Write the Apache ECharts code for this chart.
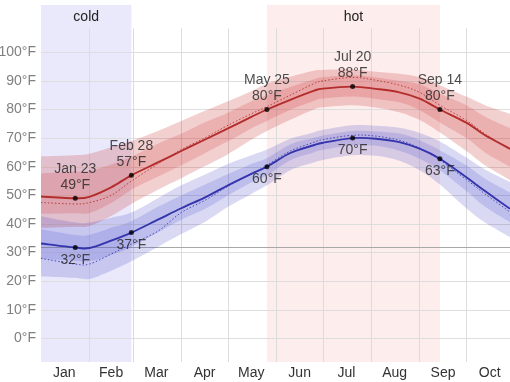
<!DOCTYPE html>
<html>
<head>
<meta charset="utf-8">
<script src="https://cdn.jsdelivr.net/npm/echarts@6/dist/echarts.min.js"></script>
<style>
  html, body { margin: 0; padding: 0; background: #ffffff; }
  #chart { width: 510px; height: 382px; }
</style>
</head>
<body>
<div id="chart"></div>
<script>
// ---- data (day of year, 0 = Jan 1) ----
const days      = [0, 22, 31, 45, 58, 75, 90, 106, 120, 135, 145, 160, 175, 181, 200, 215, 230, 243, 256, 273, 285, 301];
const highAvg   = [49.6, 49, 49.5, 52.8, 57, 61.5, 65.5, 69.7, 73.4, 77.4, 80, 83.4, 86.5, 87.3, 88, 87.2, 86, 83.8, 80, 75.4, 71, 66.3];
const highFeels = [47.5, 47, 47.5, 50, 55, 61, 66, 70.3, 74.5, 78.5, 81, 85, 89, 90, 91.2, 90.2, 88.5, 86, 81.5, 76.2, 71.5, 66];
const highP90   = [63.6, 64, 64.5, 66.8, 69, 72.5, 76, 79.7, 82.9, 86.4, 89, 91.4, 93.5, 93.8, 94, 93.2, 92.5, 91.3, 88.5, 84.5, 81.5, 78.5];
const highP75   = [57.6, 58.3, 58.5, 60.8, 63.5, 68, 71.5, 75.7, 78.9, 82.9, 85, 87.9, 90.5, 91.3, 92, 91.2, 90, 88.8, 85.5, 81.5, 77.5, 73.5];
const highP25   = [43.6, 43.8, 43.8, 47.3, 52, 56.5, 60.5, 65, 68.9, 73.4, 76, 79.9, 83, 83.8, 84.5, 83.7, 82.5, 79.8, 75.5, 70, 65, 60];
const highP10   = [38.6, 39, 39.3, 42.8, 47, 52, 56, 60.4, 64.4, 69.4, 72.5, 76.4, 80, 80.8, 81.5, 80.7, 79, 76.3, 72, 65.5, 60.5, 55.3];
const lowAvg    = [33.2, 31.8, 31.6, 34.2, 37, 41.5, 45.5, 49.5, 53.5, 57.5, 60, 64.8, 67.5, 68.4, 70, 69.8, 68.6, 66.3, 62.8, 56.3, 51.5, 45.3];
const lowFeels  = [28, 26, 26, 29.5, 33, 37.5, 44, 48.5, 53.2, 57.5, 60.5, 65.5, 68.5, 69.5, 71, 70.7, 69.2, 66.5, 62.3, 55.5, 50.5, 44.2];
const lowP90    = [42.7, 40.5, 40.5, 42.2, 44, 49, 53.5, 57.5, 61, 64, 66, 69.8, 72, 72.9, 74.5, 74.3, 73.6, 71.8, 68.8, 63.2, 59, 54.6];
const lowP75    = [38.2, 36.2, 36.2, 38.7, 41, 46, 50, 54, 57.5, 61, 63, 67.8, 70, 70.9, 72.5, 72.3, 71.6, 69.3, 65.8, 60.5, 55.8, 51];
const lowP25    = [27.7, 27.2, 27, 29.2, 32, 37, 41.5, 45.5, 50, 54.5, 57, 62.3, 65, 65.9, 67.5, 67.3, 65.6, 62.8, 58.8, 51.5, 46, 40.6];
const lowP10    = [21.7, 21.2, 20.8, 23.7, 27, 32, 36.5, 41, 46, 50.5, 53.5, 58.8, 61.5, 62.4, 64, 63.8, 62.1, 58.8, 53.8, 45.5, 40.5, 35.4];

// annotations (index into days)
const annIndex = [1, 4, 10, 14, 18];
const annDates = ['Jan 23', 'Feb 28', 'May 25', 'Jul 20', 'Sep 14'];

// seasons
const seasonNames = ['cold', 'hot'];
const seasonStart = [0, 145];
const seasonEnd   = [58, 256];

// axes
const monthNames  = ['Jan', 'Feb', 'Mar', 'Apr', 'May', 'Jun', 'Jul', 'Aug', 'Sep', 'Oct'];
const monthMids   = [15, 45, 74, 105, 135, 166, 196, 227, 258, 288];
const monthStarts = [31, 59, 90, 120, 151, 181, 212, 243, 273];
const yTicks      = [0, 10, 20, 30, 40, 50, 60, 70, 80, 90, 100];
const freezing    = 32;

// ---- layout constants ----
const X_MIN = 0, X_MAX = 301;
const Y_MIN = -8.2, Y_MAX = 116.5;
const VGRID_TOP = 108.3;
const FONT = "'Liberation Sans', Arial, Helvetica, sans-serif";

const pairs = arr => days.map((d, i) => [d, arr[i]]);

// Catmull-Rom spline through pixel points -> cubic bezier path commands
function splinePath(pts) {
  let s = '';
  for (let i = 0; i < pts.length - 1; i++) {
    const p0 = pts[i - 1] || pts[i], p1 = pts[i], p2 = pts[i + 1], p3 = pts[i + 2] || pts[i + 1];
    const c1x = p1[0] + (p2[0] - p0[0]) / 6, c1y = p1[1] + (p2[1] - p0[1]) / 6;
    const c2x = p2[0] - (p3[0] - p1[0]) / 6, c2y = p2[1] - (p3[1] - p1[1]) / 6;
    s += 'C' + c1x + ',' + c1y + ' ' + c2x + ',' + c2y + ' ' + p2[0] + ',' + p2[1];
  }
  return s;
}

function band(lower, upper, color) {
  return {
    type: 'custom', z: 2, silent: true, clip: true,
    data: days.map((d, i) => [d, lower[i], upper[i]]),
    encode: { x: 0, y: [1, 2] },
    renderItem: (params, api) => {
      if (params.dataIndex !== 0) return null;
      const up = [], lo = [];
      for (let i = 0; i < days.length; i++) {
        up.push(api.coord([days[i], upper[i]]));
        lo.push(api.coord([days[i], lower[i]]));
      }
      const loR = lo.slice().reverse();
      const d = 'M' + up[0][0] + ',' + up[0][1] + splinePath(up) +
                'L' + loR[0][0] + ',' + loR[0][1] + splinePath(loR) + 'Z';
      return { type: 'path', shape: { pathData: d }, style: { fill: color, stroke: null } };
    }
  };
}

function curve(arr, color, width, dash) {
  return {
    type: 'custom', z: 3, silent: true, clip: true,
    data: pairs(arr), encode: { x: 0, y: 1 },
    renderItem: (params, api) => {
      if (params.dataIndex !== 0) return null;
      const pts = days.map((d, i) => api.coord([d, arr[i]]));
      const d = 'M' + pts[0][0] + ',' + pts[0][1] + splinePath(pts);
      return { type: 'path', shape: { pathData: d },
               style: { fill: null, stroke: color, lineWidth: width, lineDash: dash, opacity: dash ? 0.85 : 1 } };
    }
  };
}

const redOuter = 'rgba(200,40,40,0.22)';
const redInner = 'rgba(200,40,40,0.19)';
const blueOuter = 'rgba(60,60,200,0.195)';
const blueInner = 'rgba(60,60,200,0.17)';
const redLine = '#b42d2d';
const blueLine = '#3434ad';

const monthLabel = v => {
  const i = monthMids.indexOf(v);
  return i >= 0 ? monthNames[i] : '';
};

const chart = echarts.init(document.getElementById('chart'), null, { renderer: 'canvas' });

const series = [
  // season shading
  {
    type: 'line', data: [], silent: true,
    markArea: {
      silent: true, z: 0,
      itemStyle: { color: '#e9e9fb' },
      label: { show: true, position: 'insideTop', distance: 5, color: '#222', fontSize: 14, fontFamily: FONT },
      data: seasonNames.map((n, i) => [
        { xAxis: seasonStart[i], name: n, itemStyle: { color: n === 'hot' ? '#fdeded' : '#e9e9fb' } },
        { xAxis: seasonEnd[i] }
      ])
    }
  },
  // horizontal grid + y labels
  {
    type: 'line', data: [], silent: true,
    markLine: {
      silent: true, z: 1, symbol: ['none', 'none'], animation: false,
      lineStyle: { color: '#dedede', width: 1, type: 'solid' },
      label: { show: true, position: 'start', distance: 5, formatter: p => p.value + '°F',
               color: '#808080', fontSize: 14, fontFamily: FONT },
      data: yTicks.map(v => ({ yAxis: v }))
    }
  },
  // vertical grid + freezing line
  {
    type: 'line', data: [], silent: true,
    markLine: {
      silent: true, z: 1, symbol: ['none', 'none'], animation: false,
      lineStyle: { color: '#dcdcdc', width: 1, type: 'solid' },
      label: { show: false },
      data: monthStarts.map(d => [{ coord: [d, VGRID_TOP] }, { coord: [d, Y_MIN] }])
        .concat([{ yAxis: freezing, lineStyle: { color: '#a8a8a8', width: 1, type: 'solid' } }])
    }
  },
  band(highP10, highP90, redOuter),
  band(highP25, highP75, redInner),
  band(lowP10, lowP90, blueOuter),
  band(lowP25, lowP75, blueInner),
  curve(highFeels, redLine, 1, [1.5, 2]),
  curve(lowFeels, blueLine, 1, [1.5, 2]),
  curve(highAvg, redLine, 1.9, null),
  curve(lowAvg, blueLine, 1.9, null),
  // annotations high
  { type: 'scatter', z: 4, silent: true, symbolSize: 5, itemStyle: { color: '#000' },
    data: annIndex.map((k, j) => ({ value: [days[k], highAvg[k]], name: annDates[j] })),
    label: { show: true, position: 'top', distance: 3, color: '#222', fontSize: 14, lineHeight: 16,
             fontFamily: FONT, align: 'center',
             formatter: p => p.name + '\n' + Math.round(p.value[1]) + '°F' } },
  // annotations low
  { type: 'scatter', z: 4, silent: true, symbolSize: 5, itemStyle: { color: '#000' },
    data: annIndex.map((k, j) => ({ value: [days[k], lowAvg[k]], name: annDates[j] })),
    label: { show: true, position: 'bottom', distance: 2, color: '#222', fontSize: 14, lineHeight: 16,
             fontFamily: FONT, align: 'center',
             formatter: p => Math.round(p.value[1]) + '°F' } }
];

chart.setOption({
  animation: false,
  backgroundColor: '#ffffff',
  textStyle: { fontFamily: FONT },
  grid: { left: 41, right: 0, top: 5, bottom: 20, containLabel: false },
  xAxis: {
    type: 'value', min: X_MIN, max: X_MAX,
    axisLine: { show: false },
    splitLine: { show: false },
    axisTick: { show: true, customValues: monthStarts, length: 5, lineStyle: { color: '#d0d0d0' } },
    axisLabel: { show: true, customValues: monthMids, formatter: monthLabel, margin: 4,
                 color: '#333', fontSize: 14, fontFamily: FONT }
  },
  yAxis: {
    type: 'value', min: Y_MIN, max: Y_MAX,
    axisLine: { show: false }, axisTick: { show: false },
    axisLabel: { show: false }, splitLine: { show: false }
  },
  series: series
});
</script>
</body>
</html>
